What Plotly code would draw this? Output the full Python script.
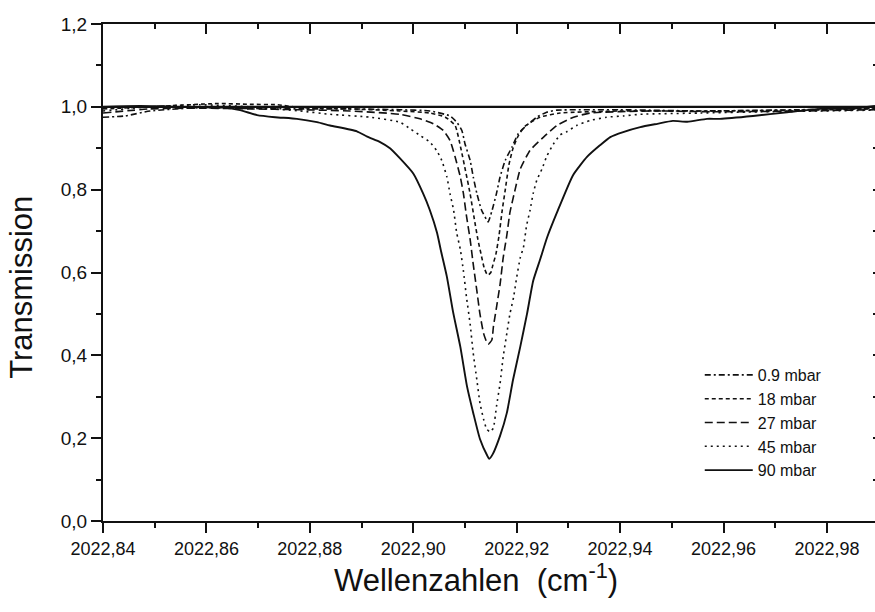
import plotly.graph_objects as go

# ---- data ----
base_x = [2022.8400, 2022.9893]
base_y = [1.0, 1.0]

x_09 = [2022.8400, 2022.8443, 2022.8491, 2022.8588, 2022.8684, 2022.8781, 2022.8878, 2022.8974,
        2022.9032, 2022.9071, 2022.9084, 2022.9094, 2022.9100, 2022.9110, 2022.9116, 2022.9123,
        2022.9132, 2022.9142, 2022.9145, 2022.9152, 2022.9161, 2022.9168, 2022.9178, 2022.9191,
        2022.9203, 2022.9219, 2022.9239, 2022.9258, 2022.9278, 2022.9400, 2022.9555, 2022.9748,
        2022.9893]
y_09 = [0.975, 0.978, 0.990, 0.998, 0.996, 0.995, 0.995, 0.993,
        0.990, 0.978, 0.963, 0.943, 0.911, 0.871, 0.831, 0.791,
        0.751, 0.727, 0.722, 0.748, 0.791, 0.831, 0.871, 0.903,
        0.935, 0.955, 0.975, 0.987, 0.992, 0.993, 0.990, 0.993,
        0.997]

x_18 = [2022.8400, 2022.8491, 2022.8621, 2022.8684, 2022.8737, 2022.8781, 2022.8878, 2022.8974,
        2022.9032, 2022.9062, 2022.9081, 2022.9092, 2022.9102, 2022.9110, 2022.9118, 2022.9125,
        2022.9131, 2022.9137, 2022.9142, 2022.9145, 2022.9150, 2022.9154, 2022.9160, 2022.9166,
        2022.9172, 2022.9178, 2022.9185, 2022.9193, 2022.9203, 2022.9216, 2022.9245, 2022.9284,
        2022.9400, 2022.9555, 2022.9748, 2022.9893]
y_18 = [0.995, 1.000, 1.008, 1.006, 1.005, 0.998, 0.995, 0.990,
        0.985, 0.975, 0.955, 0.900, 0.840, 0.790, 0.730, 0.680,
        0.645, 0.612, 0.597, 0.594, 0.600, 0.618, 0.645, 0.690,
        0.750, 0.800, 0.860, 0.900, 0.930, 0.953, 0.975, 0.985,
        0.990, 0.990, 0.992, 0.995]

x_27 = [2022.8400, 2022.8491, 2022.8588, 2022.8684, 2022.8781, 2022.8878, 2022.8974, 2022.9013,
        2022.9039, 2022.9058, 2022.9071, 2022.9081, 2022.9091, 2022.9097, 2022.9103, 2022.9110,
        2022.9116, 2022.9123, 2022.9129, 2022.9136, 2022.9142, 2022.9145, 2022.9152, 2022.9155,
        2022.9161, 2022.9168, 2022.9174, 2022.9181, 2022.9187, 2022.9197, 2022.9207, 2022.9226,
        2022.9252, 2022.9278, 2022.9310, 2022.9342, 2022.9458, 2022.9593, 2022.9748, 2022.9893]
y_27 = [0.985, 0.995, 0.997, 0.995, 0.993, 0.990, 0.982, 0.971,
        0.959, 0.943, 0.919, 0.879, 0.831, 0.791, 0.736, 0.680,
        0.620, 0.556, 0.500, 0.453, 0.432, 0.427, 0.437, 0.469,
        0.516, 0.572, 0.636, 0.690, 0.745, 0.800, 0.850, 0.895,
        0.927, 0.955, 0.975, 0.985, 0.990, 0.988, 0.990, 0.993]

x_45 = [2022.8400, 2022.8491, 2022.8588, 2022.8684, 2022.8781, 2022.8839, 2022.8916, 2022.8974,
        2022.8994, 2022.9013, 2022.9032, 2022.9045, 2022.9055, 2022.9065, 2022.9071, 2022.9078,
        2022.9084, 2022.9091, 2022.9097, 2022.9103, 2022.9110, 2022.9116, 2022.9123, 2022.9129,
        2022.9136, 2022.9142, 2022.9149, 2022.9155, 2022.9161, 2022.9168, 2022.9174, 2022.9181,
        2022.9187, 2022.9194, 2022.9200, 2022.9207, 2022.9213, 2022.9219, 2022.9226, 2022.9232,
        2022.9239, 2022.9249, 2022.9258, 2022.9271, 2022.9284, 2022.9297, 2022.9316, 2022.9342,
        2022.9374, 2022.9406, 2022.9439, 2022.9555, 2022.9671, 2022.9787, 2022.9893]
y_45 = [0.990, 1.000, 1.005, 1.000, 0.990, 0.982, 0.975, 0.963,
        0.947, 0.931, 0.915, 0.895, 0.871, 0.831, 0.791, 0.751,
        0.696, 0.656, 0.604, 0.540, 0.476, 0.405, 0.341, 0.285,
        0.246, 0.222, 0.215, 0.225, 0.277, 0.333, 0.397, 0.453,
        0.500, 0.540, 0.588, 0.636, 0.660, 0.712, 0.751, 0.791,
        0.823, 0.850, 0.880, 0.910, 0.932, 0.940, 0.955, 0.967,
        0.975, 0.978, 0.982, 0.985, 0.988, 0.990, 0.992]

x_90 = [2022.8400, 2022.8472, 2022.8549, 2022.8632, 2022.8665, 2022.8698, 2022.8733, 2022.8775,
        2022.8814, 2022.8839, 2022.8891, 2022.8911, 2022.8936, 2022.8955, 2022.8974, 2022.9000,
        2022.9019, 2022.9032, 2022.9046, 2022.9054, 2022.9065, 2022.9077, 2022.9091, 2022.9104,
        2022.9116, 2022.9129, 2022.9143, 2022.9147, 2022.9154, 2022.9168, 2022.9181, 2022.9193,
        2022.9207, 2022.9220, 2022.9232, 2022.9245, 2022.9259, 2022.9278, 2022.9309, 2022.9336,
        2022.9361, 2022.9381, 2022.9406, 2022.9439, 2022.9472, 2022.9502, 2022.9530, 2022.9568,
        2022.9593, 2022.9657, 2022.9723, 2022.9787, 2022.9851, 2022.9893]
y_90 = [1.000, 1.002, 1.000, 0.998, 0.992, 0.980, 0.975, 0.971,
        0.963, 0.955, 0.941, 0.928, 0.915, 0.900, 0.876, 0.839,
        0.791, 0.751, 0.696, 0.650, 0.590, 0.505, 0.421, 0.325,
        0.261, 0.198, 0.158, 0.150, 0.162, 0.206, 0.261, 0.341,
        0.421, 0.500, 0.580, 0.630, 0.685, 0.745, 0.835, 0.879,
        0.907, 0.927, 0.939, 0.951, 0.959, 0.966, 0.964, 0.971,
        0.971, 0.978, 0.987, 0.995, 0.996, 1.002]

series_names = ["0.9 mbar", "18 mbar", "27 mbar", "45 mbar", "90 mbar"]

x_tick_vals = [2022.84, 2022.86, 2022.88, 2022.90, 2022.92, 2022.94, 2022.96, 2022.98]
x_tick_text = ["2022,84", "2022,86", "2022,88", "2022,90", "2022,92", "2022,94", "2022,96", "2022,98"]
y_tick_vals = [0.0, 0.2, 0.4, 0.6, 0.8, 1.0, 1.2]
y_tick_text = ["0,0", "0,2", "0,4", "0,6", "0,8", "1,0", "1,2"]

x_title = "Wellenzahlen \u00a0(cm<sup>-1</sup>)"
y_title = "Transmission"

# ---- figure ----
FONT = "Liberation Sans, Arial, sans-serif"
INK = "#111111"

styles = [
    dict(dash="6px,3px,2px,3px", width=1.6),
    dict(dash="4px,3px", width=1.6),
    dict(dash="8px,4px", width=1.6),
    dict(dash="2px,4px", width=1.6),
    dict(dash="solid", width=1.9),
]
xs = [x_09, x_18, x_27, x_45, x_90]
ys = [y_09, y_18, y_27, y_45, y_90]

fig = go.Figure()
fig.add_trace(go.Scatter(x=base_x, y=base_y, mode="lines", showlegend=False,
                         line=dict(color=INK, width=2.4), hoverinfo="skip"))
for name, xv, yv, st in zip(series_names, xs, ys, styles):
    fig.add_trace(go.Scatter(x=xv, y=yv, mode="lines", name=name,
                             line=dict(color=INK, width=st["width"], dash=st["dash"],
                                       shape="spline", smoothing=0.5)))
# helper trace for the mirrored top/right axes
fig.add_trace(go.Scatter(x=base_x, y=base_y, xaxis="x2", yaxis="y2",
                         mode="lines", line=dict(width=0, color="rgba(0,0,0,0)"),
                         showlegend=False, hoverinfo="skip"))

xr = [2022.84, 2022.9893]
yr = [0.0, 1.2]

fig.update_layout(
    width=875, height=612,
    margin=dict(l=103, r=0, t=24, b=91),
    paper_bgcolor="white", plot_bgcolor="white",
    font=dict(family=FONT, color=INK),
    showlegend=True,
    legend=dict(x=0.773, y=0.328, xanchor="left", yanchor="top",
                bgcolor="rgba(0,0,0,0)", borderwidth=0,
                font=dict(family=FONT, size=16, color=INK),
                itemwidth=48, tracegroupgap=0),
    xaxis=dict(range=xr, showgrid=False, zeroline=False,
               showline=True, linecolor=INK, linewidth=2,
               ticks="outside", ticklen=10, tickwidth=2, tickcolor=INK,
               tickvals=x_tick_vals, ticktext=x_tick_text,
               tickfont=dict(family=FONT, size=18, color=INK),
               minor=dict(dtick=0.01, tick0=2022.84, ticks="outside", ticklen=5,
                          tickwidth=2, tickcolor=INK, showgrid=False)),
    yaxis=dict(range=yr, showgrid=False, zeroline=False,
               showline=True, linecolor=INK, linewidth=2,
               ticks="outside", ticklen=10, tickwidth=2, tickcolor=INK,
               tickvals=y_tick_vals, ticktext=y_tick_text,
               tickfont=dict(family=FONT, size=19, color=INK),
               minor=dict(dtick=0.1, tick0=0, ticks="outside", ticklen=5,
                          tickwidth=2, tickcolor=INK, showgrid=False)),
    xaxis2=dict(range=xr, overlaying="x", side="top", anchor="y",
                showgrid=False, zeroline=False, showline=True, linecolor=INK, linewidth=2,
                ticks="inside", ticklen=10, tickwidth=2, tickcolor=INK,
                tickvals=x_tick_vals, showticklabels=False,
                minor=dict(dtick=0.01, tick0=2022.84, ticks="inside", ticklen=5,
                           tickwidth=2, tickcolor=INK, showgrid=False)),
    yaxis2=dict(range=yr, overlaying="y", side="right", anchor="x",
                showgrid=False, zeroline=False, showline=False,
                ticks="inside", ticklen=2, tickwidth=2, tickcolor=INK,
                tickvals=y_tick_vals, showticklabels=False,
                minor=dict(dtick=0.1, tick0=0, ticks="inside", ticklen=2,
                           tickwidth=2, tickcolor=INK, showgrid=False)),
    annotations=[
        dict(text=x_title, xref="paper", yref="paper", x=0.483, y=-0.115,
             xanchor="center", yanchor="middle", showarrow=False,
             font=dict(family=FONT, size=31, color=INK)),
        dict(text=y_title, xref="paper", yref="paper", x=-0.105, y=0.471,
             xanchor="center", yanchor="middle", showarrow=False, textangle=-90,
             font=dict(family=FONT, size=31, color=INK)),
    ],
)

fig.write_html("out.html")
